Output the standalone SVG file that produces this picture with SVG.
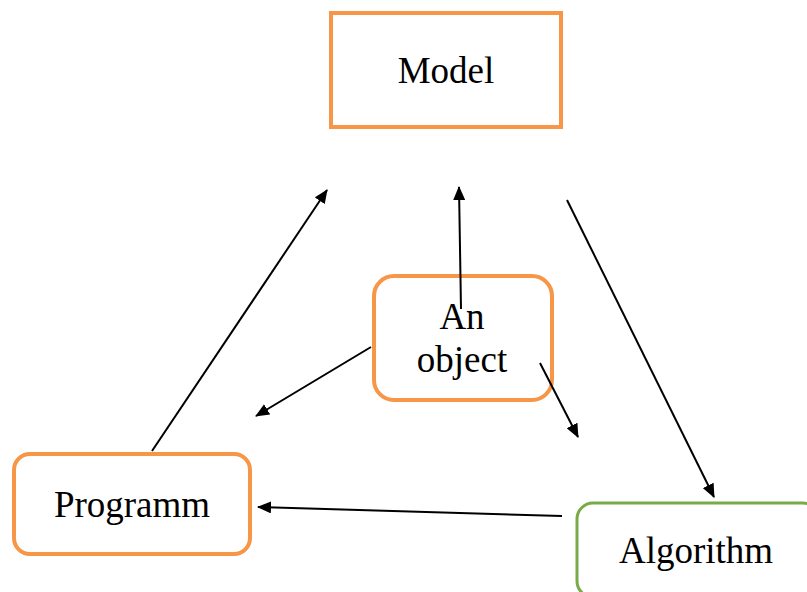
<svg xmlns="http://www.w3.org/2000/svg" width="807" height="592" viewBox="0 0 807 592">
  <style>
    .box { fill: #ffffff; stroke: #F79646; stroke-width: 4; }
    .box-green { fill: #ffffff; stroke: #77AB47; stroke-width: 3; }
    .label { font-family: "Liberation Serif", "Times New Roman", serif; font-size: 37px; fill: #000000; text-anchor: middle; }
    .edge { stroke: #000000; stroke-width: 2; fill: none; marker-end: url(#head); }
  </style>
  <defs>
    <marker id="head" viewBox="0 0 14 12" refX="13" refY="6" markerWidth="14" markerHeight="12" markerUnits="userSpaceOnUse" orient="auto">
      <path d="M0,0 L14,6 L0,12 Z" fill="#000000"/>
    </marker>
  </defs>

  <rect width="807" height="592" fill="#ffffff"/>

  <g id="model">
    <rect class="box" x="331" y="13" width="230" height="114"/>
    <text class="label" x="446" y="83">Model</text>
  </g>

  <g id="programm">
    <rect class="box" x="14" y="454" width="236" height="100" rx="16"/>
    <text class="label" x="132" y="517">Programm</text>
  </g>

  <!-- runs past the right and bottom edges of the canvas -->
  <g id="algorithm">
    <rect class="box-green" x="577" y="503" width="242" height="94" rx="16"/>
    <text class="label" x="696" y="563">Algorithm</text>
  </g>

  <g id="object">
    <rect class="box" x="374" y="276" width="178" height="124" rx="20"/>
    <text class="label" x="462" y="329">An</text>
    <text class="label" x="462" y="372">object</text>
  </g>

  <g id="connectors">
    <line class="edge" x1="152" y1="451" x2="327" y2="190"/>
    <line class="edge" x1="461" y1="309" x2="459" y2="187"/>
    <line class="edge" x1="371" y1="347" x2="256" y2="416"/>
    <line class="edge" x1="540" y1="363" x2="578" y2="437"/>
    <line class="edge" x1="567" y1="200" x2="714" y2="497"/>
    <line class="edge" x1="562" y1="516" x2="258" y2="507"/>
  </g>
</svg>
